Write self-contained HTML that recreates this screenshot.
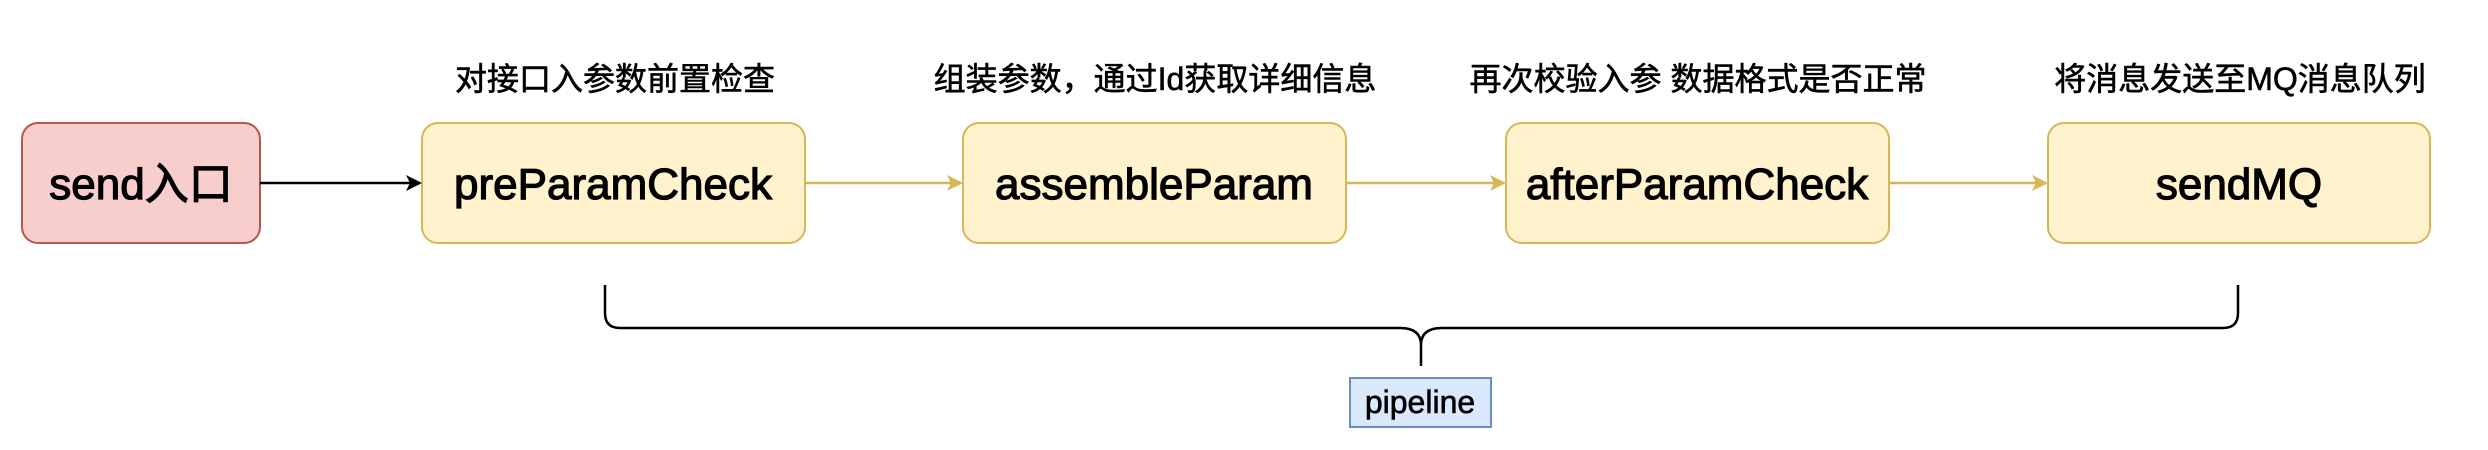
<!DOCTYPE html>
<html><head><meta charset="utf-8"><style>
html,body{margin:0;padding:0;background:#fff;width:2488px;height:450px;overflow:hidden}
svg text{font-family:"Liberation Sans","Noto Sans CJK SC",sans-serif}
</style></head><body>
<svg width="2488" height="450" viewBox="0 0 2488 450" xmlns="http://www.w3.org/2000/svg">
<defs>
<marker id="ab" markerWidth="16" markerHeight="16" refX="14" refY="8" orient="auto" markerUnits="userSpaceOnUse"><path d="M0,0 L16,8 L0,16 L4,8 Z" fill="#000"/></marker>
<marker id="ay" markerWidth="16" markerHeight="16" refX="14" refY="8" orient="auto" markerUnits="userSpaceOnUse"><path d="M0,0 L16,8 L0,16 L4,8 Z" fill="#d6b656"/></marker>
</defs>
<g font-size="32" fill="#000" text-anchor="middle" stroke="#000" stroke-width="0.6">
<text x="615" y="90">对接口入参数前置检查</text>
<text x="1155" y="90">组装参数，通过Id获取详细信息</text>
<text x="1698" y="90">再次校验入参 数据格式是否正常</text>
<text x="2240" y="90">将消息发送至MQ消息队列</text>
</g>
<rect x="22" y="123" width="238" height="120" rx="16" fill="#f8cecc" stroke="#b85450" stroke-width="2"/>
<rect x="422" y="123" width="383" height="120" rx="16" fill="#fff2cc" stroke="#d6b656" stroke-width="2"/>
<rect x="963" y="123" width="383" height="120" rx="16" fill="#fff2cc" stroke="#d6b656" stroke-width="2"/>
<rect x="1506" y="123" width="383" height="120" rx="16" fill="#fff2cc" stroke="#d6b656" stroke-width="2"/>
<rect x="2048" y="123" width="382" height="120" rx="16" fill="#fff2cc" stroke="#d6b656" stroke-width="2"/>
<g font-size="44" fill="#000" text-anchor="middle" stroke="#000" stroke-width="1.2">
<text x="141" y="199">send入口</text>
<text x="613" y="199">preParamCheck</text>
<text x="1154" y="199">assembleParam</text>
<text x="1697" y="199">afterParamCheck</text>
<text x="2239" y="199">sendMQ</text>
</g>
<line x1="260" y1="183" x2="420" y2="183" stroke="#000" stroke-width="2.5" marker-end="url(#ab)"/>
<line x1="805" y1="183" x2="961" y2="183" stroke="#d6b656" stroke-width="2.5" marker-end="url(#ay)"/>
<line x1="1346" y1="183" x2="1504" y2="183" stroke="#d6b656" stroke-width="2.5" marker-end="url(#ay)"/>
<line x1="1889" y1="183" x2="2046" y2="183" stroke="#d6b656" stroke-width="2.5" marker-end="url(#ay)"/>
<path d="M605,285 L605,313 Q605,328 620,328 L1400,328 Q1421,328 1421,345 L1421,366 M1421,345 Q1421,328 1442,328 L2223,328 Q2238,328 2238,313 L2238,285" fill="none" stroke="#000" stroke-width="2.5"/>
<rect x="1350" y="378" width="141" height="49" fill="#dae8fc" stroke="#6c8ebf" stroke-width="2"/>
<text x="1420" y="413" font-size="32" text-anchor="middle" fill="#000" stroke="#000" stroke-width="0.6">pipeline</text>
</svg>
</body></html>
